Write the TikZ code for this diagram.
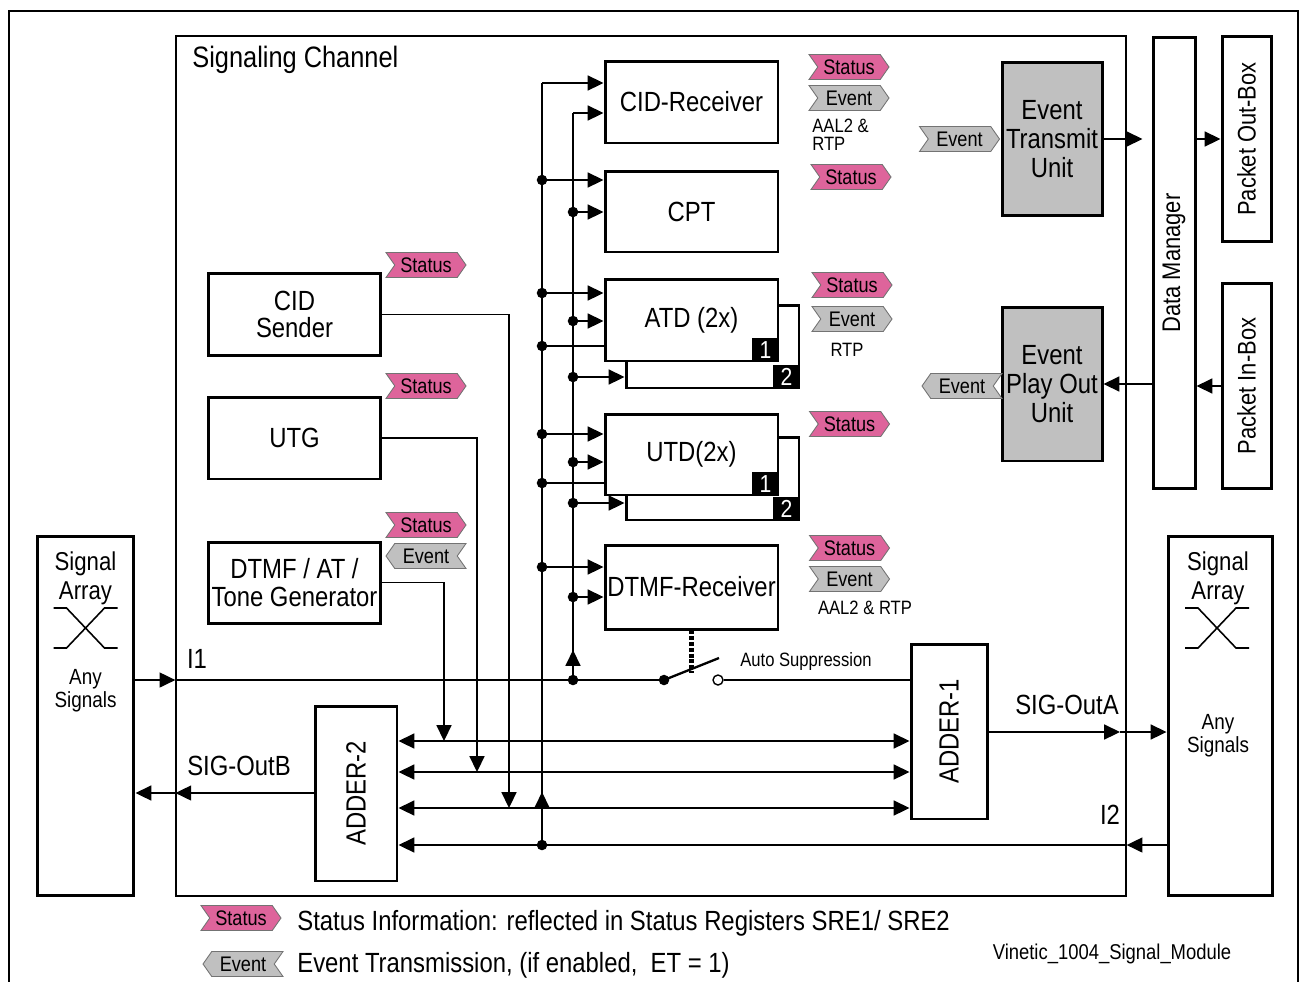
\documentclass[tikz,border=0pt]{standalone}
\usepackage{fontspec}
\setmainfont{Liberation Sans}[FakeStretch=0.86]
\usepackage{graphicx}
\usetikzlibrary{arrows.meta, positioning, shapes.symbols}
\definecolor{statpink}{RGB}{222,100,155}
\definecolor{evgray}{RGB}{192,192,192}
\tikzstyle{unit} = [rectangle, draw=black, line width=1.7pt, fill=white, inner sep=0pt, align=center, font=\fontsize{15.8}{15.5}\selectfont]
\tikzstyle{wire} = [line width=0.9pt]
\tikzstyle{feed} = [wire, -{Triangle[length=9pt,width=8.5pt]}]
\tikzstyle{both} = [wire, {Triangle[length=9pt,width=8.5pt]}-{Triangle[length=9pt,width=8.5pt]}]
\tikzstyle{status} = [signal, signal from=west, signal to=east, signal pointer angle=110, draw=black!55, line width=0.5pt, fill=statpink, minimum width=1.6cm, minimum height=0.5cm, inner sep=0pt, font=\fontsize{12}{12}\selectfont]
\tikzstyle{evout} = [status, fill=evgray]
\tikzstyle{evin} = [signal, signal from=east, signal to=west, signal pointer angle=110, draw=black!55, line width=0.5pt, fill=evgray, minimum width=1.6cm, minimum height=0.5cm, inner sep=0pt, font=\fontsize{12}{12}\selectfont]
\tikzstyle{tab} = [rectangle, fill=black, text=white, inner sep=0pt, minimum width=0.55cm, minimum height=0.49cm, font=\fontsize{14}{14}\selectfont]
\tikzstyle{lbl} = [inner sep=0pt, font=\fontsize{15.8}{16}\selectfont]
\tikzstyle{small} = [inner sep=0pt, align=left, font=\fontsize{11}{10.5}\selectfont]

\begin{document}
\begin{tikzpicture}[x=0.02cm, y=-0.02cm]
        \useasboundingbox (0,0) rectangle (1300,981);
        % outer frame and signaling channel
        \draw[line width=1.2pt] (9,990) -- (9,11) -- (1298,11) -- (1298,990);
        \node (chan) [draw, line width=0.8pt, minimum width=19cm, minimum height=17.2cm, inner sep=0pt] at (651,466) {};
        \node (title) [anchor=west, inner sep=0pt, font=\fontsize{16.8}{17}\selectfont] at (192,60) {Signaling Channel};

        % signal arrays
        \node (sal) [unit, minimum width=1.94cm, minimum height=7.2cm] at (85.5,716) {};
        \node (sar) [unit, minimum width=2.08cm, minimum height=7.2cm] at (1220,716) {};
        \node (sal-t) [lbl, align=center, font=\fontsize{14.7}{16.4}\selectfont] at (85.5,578) {Signal\\Array};
        \node (sal-a) [lbl, align=center, font=\fontsize{12.5}{13}\selectfont] at (85.5,691) {Any\\Signals};
        \node (sar-t) [lbl, align=center, font=\fontsize{14.7}{16.4}\selectfont] at (1218,578) {Signal\\Array};
        \node (sar-a) [lbl, align=center, font=\fontsize{12.5}{13}\selectfont] at (1218,736) {Any\\Signals};
        \foreach \cx in {85.5,1217}
          \draw[wire] (\cx-32,608) -- ++(13,0) -- ++(38,40) -- ++(13,0)
                      (\cx-32,648) -- ++(13,0) -- ++(38,-40) -- ++(13,0);

        % generators
        \node (cids) [unit, minimum width=3.46cm, minimum height=1.64cm] at (294.5,314.5) {CID\\Sender};
        \node (utg) [unit, minimum width=3.46cm, minimum height=1.64cm] at (294.5,438) {UTG};
        \node (dtmfg) [unit, minimum width=3.46cm, minimum height=1.62cm] at (294.5,582.5) {DTMF / AT /\\Tone Generator};

        % detectors
        \node (cidr) [unit, minimum width=3.46cm, minimum height=1.64cm] at (691.5,102) {CID-Receiver};
        \node (cpt) [unit, minimum width=3.46cm, minimum height=1.62cm] at (691.5,211.5) {CPT};
        \node (atdb) [unit, minimum width=3.46cm, minimum height=1.66cm] at (712.5,346.5) {};
        \node (atd-2) [tab, anchor=south east] at (atdb.south east) {2};
        \node (atd) [unit, minimum width=3.46cm, minimum height=1.64cm] at (691.5,320) {ATD (2x)};
        \node (atd-1) [tab, anchor=south east] at (atd.south east) {1};
        \node (utdb) [unit, minimum width=3.46cm, minimum height=1.66cm] at (712.5,478.5) {};
        \node (utd-2) [tab, anchor=south east] at (utdb.south east) {2};
        \node (utd) [unit, minimum width=3.46cm, minimum height=1.62cm] at (691.5,454.5) {UTD(2x)};
        \node (utd-1) [tab, anchor=south east] at (utd.south east) {1};
        \node (dtmfr) [unit, minimum width=3.46cm, minimum height=1.68cm] at (691.5,587) {DTMF-Receiver};

        % adders
        \node (adder2) [unit, minimum width=1.64cm, minimum height=3.5cm] at (356,793.5) {\rotatebox{90}{ADDER-2}};
        \node (adder1) [unit, minimum width=1.52cm, minimum height=3.5cm] at (949,731.5) {\rotatebox{90}{ADDER-1}};

        % event units, data manager, packet boxes
        \node (etu) [unit, fill=evgray, minimum width=2cm, minimum height=3.08cm, font=\fontsize{15.8}{16.4}\selectfont] at (1052,139) {Event\\Transmit\\Unit};
        \node (epu) [unit, fill=evgray, minimum width=2cm, minimum height=3.08cm, font=\fontsize{15.8}{16.4}\selectfont] at (1052,384) {Event\\Play Out\\Unit};
        \node (dm) [unit, minimum width=0.84cm, minimum height=9.04cm, font=\fontsize{14.5}{15}\selectfont] at (1174,263) {\rotatebox{90}{Data Manager}};
        \node (pob) [unit, minimum width=0.98cm, minimum height=4.12cm, font=\fontsize{14.5}{15}\selectfont] at (1246.5,139) {\rotatebox{90}{Packet Out-Box}};
        \node (pib) [unit, minimum width=0.98cm, minimum height=4.12cm, font=\fontsize{14.5}{15}\selectfont] at (1246.5,386) {\rotatebox{90}{Packet In-Box}};

        % buses to the detectors
        \coordinate (ob-top) at (542,83);
        \coordinate (ib-top) at (573,113);
        \coordinate (ob-i2) at (542,845);
        \coordinate (ib-i1) at (573,680);
        \draw[wire] (ob-i2) -- (ob-top);
        \draw[feed] (ob-top) -- (ob-top -| cidr.west);
        \draw[feed] (ob-i2) -- (542,792);
        \draw[wire] (ib-i1) -- (ib-top);
        \draw[feed] (ib-top) -- (ib-top -| cidr.west);
        \draw[feed] (ib-i1) -- (573,650);
        \foreach \y/\n in {180/cpt, 293/atd, 434/utd, 567/dtmfr}
          \draw[feed] (542,\y) -- (\n.west |- 542,\y);
        \foreach \y/\n in {346/atd, 483/utd}
          \draw[wire] (542,\y) -- (\n.west |- 542,\y);
        \foreach \y/\n in {212/cpt, 321/atd, 377/atdb, 462/utd, 503/utdb, 597/dtmfr}
          \draw[feed] (573,\y) -- (\n.west |- 573,\y);
        \foreach \x/\y in {542/180, 542/293, 542/346, 542/434, 542/483, 542/567, 542/845,
                           573/212, 573/321, 573/377, 573/462, 573/503, 573/597, 573/680}
          \fill (\x,\y) circle (3pt);

        % I1 and auto suppression switch
        \coordinate (sw-a) at (664,680);
        \node (sw-b) [circle, draw, line width=0.8pt, fill=white, inner sep=0pt, minimum size=0.2cm] at (718,680) {};
        \draw[feed] (sal.east |- sw-a) -- (chan.west |- sw-a);
        \draw[wire] (chan.west |- sw-a) -- (sw-a);
        \draw[line width=1.3pt] (sw-a) -- (719,658);
        \fill (sw-a) circle (3pt);
        \draw[wire] (sw-b) -- (sw-b -| adder1.west);
        \draw[line width=2.4pt, dash pattern=on 2.2pt off 1.1pt] (dtmfr.south) -- (dtmfr.south |- 0,673);
        \node (auto) [small, anchor=west] at (740,661) {Auto Suppression};
        \node (i1-lbl) [lbl] at (197,659) {I1};

        % adder lines
        \foreach \y in {741,772,808}
          \draw[both] (adder2.east |- 0,\y) -- (adder1.west |- 0,\y);
        \draw[feed] (dtmfg.east) -| (444,741);
        \draw[feed] (utg.east) -| (477,772);
        \draw[feed] (cids.east) -| (509,808);
        \coordinate (oa-mid) at (1120,732);
        \draw[feed] (adder1.east |- oa-mid) -- (oa-mid);
        \draw[feed] (oa-mid) -- (sar.west |- oa-mid);
        \node (oa-lbl) [lbl] at (1067,705) {SIG-OutA};
        \draw[feed] (sar.west |- 0,845) -- (chan.east |- 0,845);
        \draw[feed] (chan.east |- 0,845) -- (adder2.east |- 0,845);
        \node (i2-lbl) [lbl] at (1110,815) {I2};
        \draw[feed] (adder2.west |- 0,793) -- (chan.west |- 0,793);
        \draw[feed] (chan.west |- 0,793) -- (sal.east |- 0,793);
        \node (ob-lbl) [lbl] at (239,766) {SIG-OutB};

        % data manager links
        \draw[feed] (etu.east) -- ++(39,0);
        \draw[feed] (dm.east |- pob.west) -- (pob.west);
        \draw[feed] (pib.west) -- (dm.east |- pib.west);
        \draw[feed] (dm.west |- epu.east) -- (epu.east);

        % status and event tags
        \node (st-cidr) [status] at (849,67) {Status};
        \node (ev-cidr) [evout] at (849,98) {Event};
        \node (aal-cidr) [small, anchor=west] at (812,135) {AAL2 \&\\RTP};
        \node (st-cpt) [status] at (851,177) {Status};
        \node (st-atd) [status] at (852,285) {Status};
        \node (ev-atd) [evout] at (852,319) {Event};
        \node (rtp-atd) [small] at (847,350) {RTP};
        \node (st-utd) [status] at (849.5,424) {Status};
        \node (st-dtmfr) [status] at (849.5,548) {Status};
        \node (ev-dtmfr) [evout] at (849.5,579) {Event};
        \node (aal-dtmfr) [small] at (865,608) {AAL2 \& RTP};
        \node (st-cids) [status] at (426,265) {Status};
        \node (st-utg) [status] at (426,386) {Status};
        \node (st-dtmfg) [status] at (426,525) {Status};
        \node (ev-dtmfg) [evin] at (426,556) {Event};
        \node (ev-etu) [evout] at (959.5,139) {Event};
        \node (ev-epu) [evin] at (962,386) {Event};

        % legend
        \node (lg-st) [status] at (241,918) {Status};
        \node (lg-st-t) [lbl, anchor=west] at (297,923) {Status Information: reflected in Status Registers SRE1/ SRE2};
        \node (lg-ev) [evin] at (243,964) {Event};
        \node (lg-ev-t) [lbl, anchor=west] at (297,965) {Event Transmission, (if enabled,\ \ ET = 1)};
        \node (fig-name) [inner sep=0pt, font=\fontsize{12.2}{13}\selectfont] at (1112,954) {Vinetic\_1004\_Signal\_Module};
\end{tikzpicture}
\end{document}
